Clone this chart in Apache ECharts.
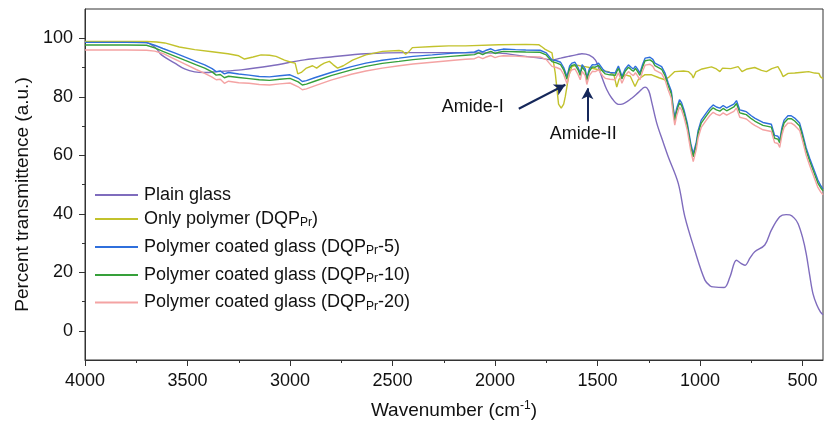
<!DOCTYPE html>
<html>
<head>
<meta charset="utf-8">
<script src="https://cdn.jsdelivr.net/npm/echarts@6/dist/echarts.min.js"></script>
<style>
html,body{margin:0;padding:0;background:#fff;}
#c{width:826px;height:432px;}
</style>
</head>
<body>
<div id="c"></div>
<script>
// ---- Data ----
const xTicks = [500, 1000, 1500, 2000, 2500, 3000, 3500, 4000];
const xMinorTicks = [750, 1250, 1750, 2250, 2750, 3250, 3750];
const yTicks = [0, 20, 40, 60, 80, 100];
const yMinorTicks = [10, 30, 50, 70, 90];

const seriesNames = [
  'Plain glass',
  'Only polymer (DQPPr)',
  'Polymer coated glass (DQPPr-5)',
  'Polymer coated glass (DQPPr-10)',
  'Polymer coated glass (DQPPr-20)'
];

// Plain glass: [wavenumber, %T]
const plainGlass = [
  [4000,98.6],[3750,98.6],[3700,98.5],[3680,98.0],[3650,96.3],[3627,94.3],[3562,91.5],[3514,89.5],[3465,88.5],[3416,88.3],
  [3353,88.6],[3238,89.2],[3092,90.6],[2930,92.6],[2800,93.6],[2630,94.7],[2419,95.1],[2200,95.1],[1981,94.9],[1852,93.8],
  [1780,93.2],[1722,92.6],[1680,93.2],[1641,93.8],[1600,94.4],[1576,94.7],[1540,94.2],[1510,92.5],[1495,90.0],[1475,86.0],
  [1455,82.5],[1430,79.5],[1398,77.4],[1380,77.5],[1333,79.5],[1300,81.5],[1268,83.3],[1250,82.0],[1235,78.0],[1211,71.0],
  [1180,64.5],[1155,59.5],[1106,50.4],[1074,39.0],[1026,27.6],[976,17.3],[950,15.3],[936,15.0],[882,14.8],[854,18.4],
  [822,24.1],[800,23.0],[781,22.4],[755,25.0],[733,27.0],[684,29.3],[652,34.4],[611,39.0],[580,39.7],[562,39.6],
  [540,38.5],[522,36.7],[500,32.0],[482,26.4],[465,19.0],[449,12.7],[430,8.8],[412,6.4],[400,5.5]
];

// Only polymer: [wavenumber, %T]
const onlyPolymer = [
  [4000,98.9],[3700,98.9],[3650,98.7],[3611,98.4],[3540,97.0],[3465,96.1],[3380,95.4],[3303,94.7],[3250,94.0],[3222,92.9],
  [3180,93.6],[3141,94.3],[3100,94.2],[3068,93.8],[3027,92.5],[2995,91.8],[2975,91.5],[2962,87.8],[2945,88.3],[2920,89.8],
  [2890,90.6],[2870,89.8],[2850,90.8],[2833,91.5],[2808,92.1],[2790,91.0],[2768,89.8],[2740,90.6],[2695,92.5],[2630,94.3],
  [2549,95.5],[2468,95.8],[2452,95.6],[2436,94.5],[2419,95.5],[2403,96.8],[2300,97.2],[2225,97.4],[2144,97.4],[1981,97.8],
  [1850,97.9],[1787,97.8],[1770,97.0],[1755,96.2],[1722,95.0],[1706,88.1],[1690,77.5],[1677,76.1],[1665,77.5],[1657,80.1],
  [1641,86.9],[1625,90.3],[1600,90.8],[1580,90.5],[1560,90.3],[1540,90.0],[1510,89.5],[1480,89.0],[1447,88.6],[1420,87.5],
  [1406,83.3],[1395,86.0],[1365,87.5],[1340,87.0],[1317,83.5],[1300,86.0],[1270,87.5],[1236,87.5],[1200,86.5],[1171,85.8],
  [1150,86.8],[1123,88.6],[1080,88.8],[1057,88.6],[1040,87.5],[1033,86.4],[1020,88.5],[990,89.5],[944,90.2],[920,89.5],
  [903,88.6],[890,89.8],[850,89.6],[814,90.3],[795,88.6],[770,89.5],[733,90.0],[700,89.0],[676,88.6],[650,89.6],
  [620,90.3],[605,88.5],[595,86.9],[570,88.0],[538,88.1],[500,88.4],[470,88.6],[441,88.1],[420,88.0],[412,86.8],
  [400,86.2]
];

// Coated glass samples share one wavenumber grid
const wnCoated = [
  4000,3800,3700,3660,3620,3560,3514,3460,3416,3380,
  3360,3340,3320,3300,3250,3200,3150,3100,3050,3000,
  2960,2940,2920,2880,2800,2700,2630,2550,2468,2400,
  2306,2200,2144,2100,2080,2060,2046,2020,2000,1981,
  1960,1900,1850,1780,1750,1722,1700,1680,1665,1649,
  1636,1625,1610,1595,1584,1575,1568,1560,1552,1540,
  1525,1511,1495,1487,1475,1462,1440,1414,1405,1398,
  1390,1381,1365,1349,1335,1325,1315,1305,1293,1280,
  1268,1244,1230,1220,1187,1170,1155,1140,1130,1123,
  1114,1100,1090,1078,1062,1045,1033,1018,1009,994,
  970,952,936,920,903,887,870,854,835,822,
  806,790,774,750,733,717,693,652,636,620,
  611,600,590,571,555,538,514,500,482,465,
  449,425,410,400
];
const coated5 = [
  98.6,98.6,98.5,97.6,96.5,94.9,93.6,92.1,90.9,89.6,
  88.6,88.8,87.8,88.3,87.8,87.4,86.9,86.8,87.2,87.5,
  86.3,85.2,85.5,86.5,88.3,90.3,91.5,92.5,93.2,93.8,
  94.3,94.9,95.1,95.3,95.9,95.3,95.8,96.4,95.7,96.0,
  96.3,96.1,96.0,95.9,95.0,92.6,92.3,91.8,90.0,86.9,
  90.5,91.5,91.8,90.0,88.1,91.0,91.3,89.5,86.4,89.5,
  91.0,90.9,91.5,91.3,89.5,88.6,88.3,88.1,89.5,90.5,
  89.0,86.9,89.5,90.9,90.0,89.5,90.5,89.5,88.1,91.0,
  93.2,93.5,92.8,91.5,90.3,88.0,84.7,82.0,76.0,72.8,
  76.0,79.0,78.0,75.5,71.0,64.0,60.5,64.5,68.5,72.0,
  74.4,76.1,77.2,76.5,76.1,77.0,76.2,76.8,77.5,78.7,
  75.5,75.2,74.9,73.5,72.7,72.1,71.2,70.6,66.8,66.5,
  65.2,69.5,72.0,73.5,73.5,72.7,71.0,67.5,62.5,59.0,
  56.0,51.5,49.5,48.5
];
const coated10 = [
  97.7,97.7,97.6,96.7,95.5,93.8,92.5,91.0,89.8,88.5,
  87.4,87.6,86.5,87.0,86.6,86.2,85.8,85.6,86.0,86.3,
  85.1,84.0,84.3,85.3,87.2,89.2,90.4,91.4,92.1,92.7,
  93.3,93.9,94.2,94.4,95.0,94.4,94.9,95.5,94.8,95.2,
  95.5,95.4,95.3,95.2,94.3,92.0,91.6,91.0,89.2,86.0,
  89.7,90.7,91.0,89.2,87.3,90.2,90.5,88.7,85.6,88.7,
  90.2,90.1,90.7,90.5,88.7,87.8,87.5,87.3,88.7,89.7,
  88.2,86.1,88.7,90.1,89.2,88.7,89.7,88.7,87.3,90.2,
  92.3,92.6,91.9,90.6,89.4,87.1,83.8,81.0,75.0,71.8,
  75.0,78.0,77.0,74.5,70.0,63.0,59.5,63.5,67.5,71.0,
  73.4,75.1,76.2,75.5,75.1,76.0,75.2,75.8,76.5,77.7,
  74.5,74.2,73.9,72.5,71.7,71.1,70.2,69.6,65.8,65.5,
  64.2,68.5,71.0,72.5,72.5,71.7,70.0,66.5,61.5,58.0,
  55.0,50.5,48.8,47.8
];
const coated20 = [
  96.0,96.0,95.9,95.6,94.8,92.8,91.2,89.4,88.0,86.7,
  85.8,86.0,84.6,85.3,84.8,84.6,84.2,84.0,84.4,84.7,
  83.4,82.4,82.7,83.7,85.7,87.7,88.8,89.8,90.6,91.2,
  91.8,92.5,92.8,93.0,93.6,93.0,93.5,94.1,93.4,93.8,
  94.0,93.9,93.7,93.6,92.7,90.4,90.0,89.4,87.6,84.5,
  88.2,89.2,89.5,87.6,85.8,88.7,89.0,87.2,84.2,87.2,
  88.7,88.6,89.2,89.0,87.2,86.3,86.0,85.8,87.2,88.2,
  86.7,84.6,87.2,88.6,87.7,87.2,88.2,87.2,85.8,88.7,
  90.8,91.1,90.4,89.1,87.9,85.6,82.3,79.5,73.5,70.3,
  73.5,76.5,75.5,73.0,68.5,61.5,57.8,62.0,66.0,69.5,
  71.9,73.6,74.7,74.0,73.6,74.5,73.7,74.3,75.0,76.2,
  73.0,72.7,72.4,71.0,70.2,69.6,68.7,68.1,64.3,64.0,
  62.7,67.0,69.5,71.0,71.0,70.2,68.5,65.0,60.0,56.5,
  53.5,49.0,47.3,46.5
];

// Annotations in data coordinates
const amideIText = [2109, 76.4];
const amideIArrow = [[1884, 75.9], [1657, 84.1]];
const amideIIText = [1570, 67.3];
const amideIIArrow = [[1549, 71.5], [1549, 82.9]];

// ---- Styles ----
const FONT = '"Liberation Sans", Arial, Helvetica, sans-serif';
const colors = ['#7f6cbd', '#c2c22c', '#2f6fdc', '#36a03a', '#f4a3a3'];
const legendRows = [196, 220, 248, 276, 303.5];
const legendRich = {
  t: {fontFamily: FONT, fontSize: 18, color: '#111', lineHeight: 20},
  s: {fontFamily: FONT, fontSize: 12, color: '#111', lineHeight: 6, verticalAlign: 'bottom'}
};
const legendLabels = {
  'Plain glass': '{t|Plain glass}',
  'Only polymer (DQPPr)': '{t|Only polymer (DQP}{s|Pr}{t|)}',
  'Polymer coated glass (DQPPr-5)': '{t|Polymer coated glass (DQP}{s|Pr}{t|-5)}',
  'Polymer coated glass (DQPPr-10)': '{t|Polymer coated glass (DQP}{s|Pr}{t|-10)}',
  'Polymer coated glass (DQPPr-20)': '{t|Polymer coated glass (DQP}{s|Pr}{t|-20)}'
};

const coatedPairs = (vals) => wnCoated.map((w, i) => [w, vals[i]]);
const seriesData = [plainGlass, onlyPolymer, coatedPairs(coated5), coatedPairs(coated10), coatedPairs(coated20)];

const chart = echarts.init(document.getElementById('c'), null, {renderer: 'canvas'});
const plain = (v) => String(v);

const option = {
  animation: false,
  backgroundColor: '#fff',
  grid: {left: 85, right: 3, top: 9, bottom: 72, show: true, borderColor: '#333', borderWidth: 1, backgroundColor: 'transparent'},
  legend: seriesNames.map((n, i) => ({
    data: [n], left: 95, top: legendRows[i] - 10, padding: 0, itemGap: 0,
    itemWidth: 43, itemHeight: 2, icon: 'rect', selectedMode: false,
    formatter: (name) => legendLabels[name],
    textStyle: {rich: legendRich, padding: [0, 0, 0, 1]}
  })),
  xAxis: [{
    type: 'value', inverse: true, min: 400, max: 4000, position: 'bottom',
    name: '{n|Wavenumber (cm}{p|-1}{n|)}', nameLocation: 'middle', nameGap: 40,
    nameTextStyle: {rich: {
      n: {fontFamily: FONT, fontSize: 19, color: '#111', lineHeight: 22},
      p: {fontFamily: FONT, fontSize: 12, color: '#111', lineHeight: 8, verticalAlign: 'top'}
    }},
    axisLine: {show: true, onZero: false, lineStyle: {color: '#333', width: 1}},
    axisTick: {show: true, inside: false, length: 6, customValues: xTicks, lineStyle: {color: '#333'}},
    axisLabel: {customValues: xTicks, formatter: plain, margin: 12, fontFamily: FONT, fontSize: 18, color: '#111'},
    splitLine: {show: false}
  }, {
    type: 'value', inverse: true, min: 400, max: 4000, position: 'bottom',
    axisLine: {show: false, onZero: false},
    axisTick: {show: true, inside: false, length: 3, customValues: xMinorTicks, lineStyle: {color: '#333'}},
    axisLabel: {show: false},
    splitLine: {show: false}
  }],
  yAxis: [{
    type: 'value', min: -10, max: 110, position: 'left',
    name: 'Percent transmittence (a.u.)', nameLocation: 'middle', nameGap: 50, nameRotate: 90,
    nameTextStyle: {fontFamily: FONT, fontSize: 19, color: '#111', padding: [0, 20, 0, 0]},
    axisLine: {show: true, onZero: false, lineStyle: {color: '#333', width: 1}},
    axisTick: {show: true, inside: false, length: 6, customValues: yTicks, lineStyle: {color: '#333'}},
    axisLabel: {customValues: yTicks, formatter: plain, margin: 12, fontFamily: FONT, fontSize: 18, color: '#111'},
    splitLine: {show: false}
  }, {
    type: 'value', min: -10, max: 110, position: 'left',
    axisLine: {show: false, onZero: false},
    axisTick: {show: true, inside: false, length: 3, customValues: yMinorTicks, lineStyle: {color: '#333'}},
    axisLabel: {show: false},
    splitLine: {show: false}
  }],
  series: seriesNames.map((n, i) => ({
    name: n, type: 'line', data: seriesData[i], xAxisIndex: 0, yAxisIndex: 0,
    showSymbol: false, symbol: 'none', smooth: i === 0 ? 0.35 : false,
    color: colors[i],
    lineStyle: {color: colors[i], width: 1.4},
    emphasis: {disabled: true},
    z: 2 + i,
    markLine: i === 4 ? {
      silent: true, animation: false,
      symbol: ['none', 'arrow'], symbolSize: [9, 11],
      lineStyle: {color: '#15275a', width: 2, type: 'solid'},
      label: {show: false},
      data: [
        [{coord: amideIArrow[0]}, {coord: amideIArrow[1]}],
        [{coord: amideIIArrow[0]}, {coord: amideIIArrow[1]}]
      ]
    } : undefined
  }))
};
chart.setOption(option);

const pI = chart.convertToPixel({gridIndex: 0}, amideIText);
const pII = chart.convertToPixel({gridIndex: 0}, amideIIText);
chart.setOption({
  graphic: [
    {type: 'text', x: pI[0], y: pI[1], style: {text: 'Amide-I', font: '18px ' + FONT, fill: '#111', align: 'center', verticalAlign: 'middle'}},
    {type: 'text', x: pII[0], y: pII[1], style: {text: 'Amide-II', font: '18px ' + FONT, fill: '#111', align: 'center', verticalAlign: 'middle'}}
  ]
});
</script>
</body>
</html>
